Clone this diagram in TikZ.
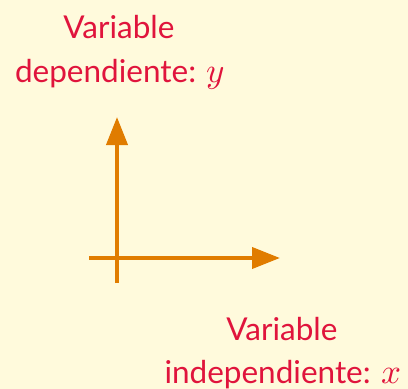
\documentclass[tikz,border=0pt]{standalone}
\usepackage{unicode-math}
\setmainfont{Lato}
\usetikzlibrary{arrows.meta}
\definecolor{bgc}{RGB}{255,250,220}
\definecolor{txtc}{RGB}{224,20,60}
\definecolor{axc}{RGB}{224,124,0}
\newcommand{\bigvar}[1]{{\fontsize{35}{44}\selectfont$#1$}}
\tikzset{
  lbl/.style={text=txtc, font=\fontsize{31.5}{44}\selectfont, align=center, inner sep=0pt, anchor=base},
  axis/.style={draw=axc, line width=4pt, -{Triangle[length=28pt,width=21pt]}}
}
\begin{document}
\begin{tikzpicture}[x=1pt,y=-1pt]
\fill[bgc] (0,0) rectangle (408,389);
\useasboundingbox (0,0) rectangle (408,389);
\node[lbl] (yl1) at (119,38) {Variable};
\node[lbl] (yl2) at (120,82) {dependiente: \bigvar{y}};
\node[lbl] (xl1) at (282,340) {Variable};
\node[lbl] (xl2) at (283,383) {independiente: \bigvar{x}};
\coordinate (ys) at (117,283);
\coordinate (ye) at (117,117);
\coordinate (xs) at (89,258);
\coordinate (xe) at (280,258);
\draw[axis] (ys) -- (ye);
\draw[axis] (xs) -- (xe);
\end{tikzpicture}
\end{document}
